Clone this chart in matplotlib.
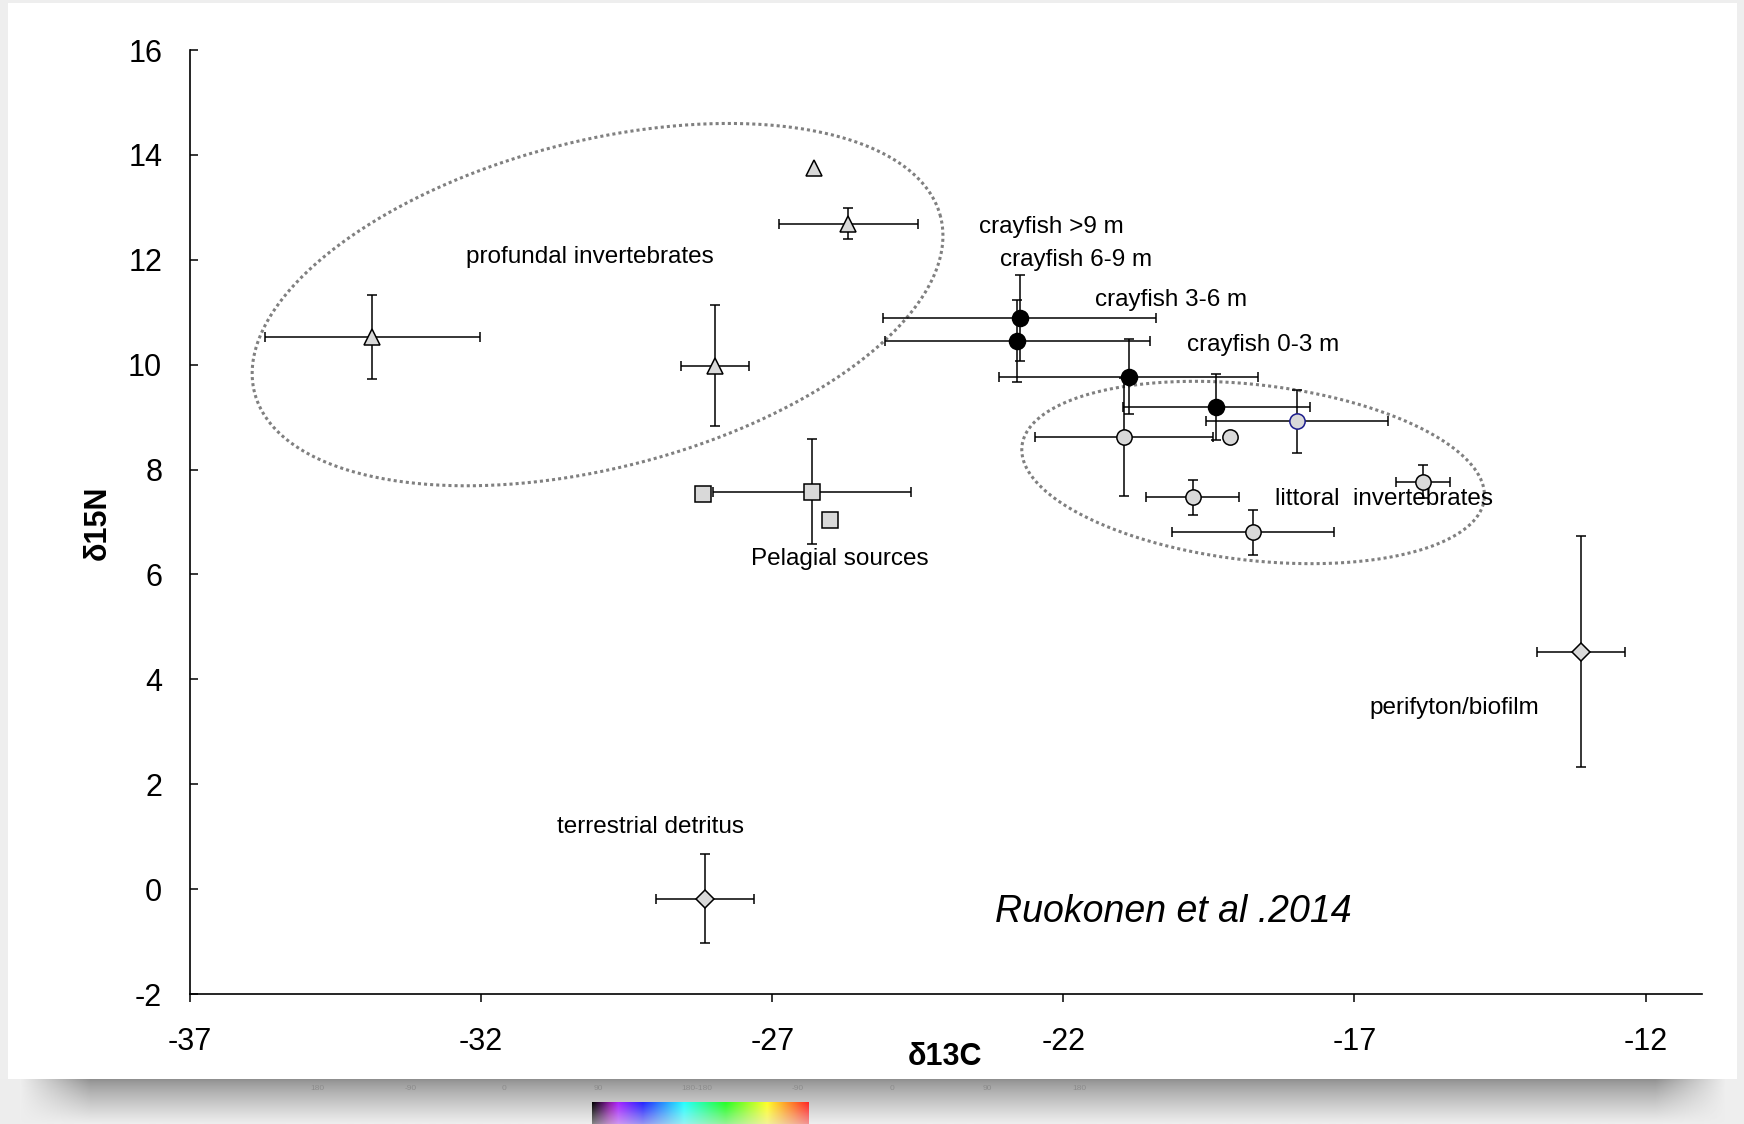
import numpy as np
import matplotlib
matplotlib.use('Agg')
import matplotlib.pyplot as plt
from matplotlib.colors import hsv_to_rgb
from matplotlib.patches import Rectangle

# stable isotope means (d13C, d15N) with SD
profundal_x = [-33.87, -27.98, -25.69, -26.28]
profundal_y = [10.53, 9.98, 12.69, 13.75]
profundal_xerr = [1.85, 0.58, 1.20, np.nan]
profundal_yerr = [0.80, 1.15, 0.30, np.nan]

pelagial_x = [-28.19, -26.32, -26.00]
pelagial_y = [7.53, 7.58, 7.03]
pelagial_xerr = [np.nan, 1.70, np.nan]
pelagial_yerr = [np.nan, 1.00, np.nan]

crayfish_x = [-22.75, -22.79, -20.88, -19.37]
crayfish_y = [10.89, 10.45, 9.77, 9.19]
crayfish_xerr = [2.35, 2.28, 2.22, 1.60]
crayfish_yerr = [0.82, 0.79, 0.71, 0.63]
crayfish_labels = ['crayfish >9 m', 'crayfish 6-9 m', 'crayfish 3-6 m', 'crayfish 0-3 m']

littoral_x = [-17.99, -19.14, -20.96, -19.78, -18.74, -15.82]
littoral_y = [8.92, 8.63, 8.62, 7.47, 6.80, 7.77]
littoral_xerr = [1.56, np.nan, 1.53, 0.80, 1.39, 0.46]
littoral_yerr = [0.60, np.nan, 1.12, 0.34, 0.42, 0.32]
littoral_edge = ['#1c1c8c', 'black', 'black', 'black', 'black', 'black']

periphyton_x = [-13.11]
periphyton_y = [4.53]
periphyton_xerr = [0.76]
periphyton_yerr = [2.21]

terrestrial_x = [-28.16]
terrestrial_y = [-0.18]
terrestrial_xerr = [0.84]
terrestrial_yerr = [0.84]

# group outlines: centre and two conjugate semi-axes in data units
profundal_ring = (-30.0, 11.145, (5.891, 1.679), (-0.699, 3.019))
littoral_ring = (-18.74, 7.944, (3.970, -0.507), (0.1725, 1.663))

# text labels (x, y, text)
group_labels = [
    (-30.14, 12.06, 'profundal invertebrates'),
    (-25.84, 6.29, 'Pelagial sources'),
    (-16.50, 7.44, 'littoral  invertebrates'),
    (-15.28, 3.45, 'perifyton/biofilm'),
    (-29.09, 1.18, 'terrestrial detritus'),
]
crayfish_label_pos = [(-22.20, 12.63), (-21.78, 11.99), (-20.15, 11.23), (-18.57, 10.38)]

x_ticks = [-37, -32, -27, -22, -17, -12]
y_ticks = [-2, 0, 2, 4, 6, 8, 10, 12, 14, 16]

GREY = '#d9d9d9'


def draw_group(ax, x, y, xerr, yerr, marker, ms, face, edge='black'):
    """Error bars where given, then the markers on top."""
    x = np.array(x); y = np.array(y)
    xerr = np.array(xerr, dtype=float); yerr = np.array(yerr, dtype=float)
    has = np.isfinite(xerr)
    if has.any():
        ax.errorbar(x[has], y[has], xerr=xerr[has], yerr=yerr[has], fmt='none',
                    ecolor='black', elinewidth=1.1, capsize=3.3, capthick=1.1, zorder=3)
    if isinstance(edge, str):
        edge = [edge] * len(x)
    for xi, yi, ec in zip(x, y, edge):
        ax.plot(xi, yi, marker=marker, ms=ms, mfc=face, mec=ec, mew=1.1,
                ls='none', zorder=4)


def draw_ring(ax, ring):
    cx, cy, u, v = ring
    t = np.linspace(0, 2 * np.pi, 500)
    ex = cx + u[0] * np.cos(t) + v[0] * np.sin(t)
    ey = cy + u[1] * np.cos(t) + v[1] * np.sin(t)
    ax.plot(ex, ey, ls=(0, (1, 1)), lw=2.2, color='#808080', zorder=2)


plt.rcParams['font.family'] = ['Liberation Sans', 'DejaVu Sans']
plt.rcParams['axes.unicode_minus'] = False

W, H = 1744, 1124
fig = plt.figure(figsize=(W / 100, H / 100), dpi=100, facecolor='#eeeeee')

# white page with a soft shadow underneath
fig.patches.append(Rectangle((8 / W, 45 / H), 1729 / W, 1076 / H, transform=fig.transFigure,
                             facecolor='white', edgecolor='none', zorder=-1))

sh = fig.add_axes([0, 0, 1, 45 / H], zorder=-2)
sh.axis('off')
rows = np.linspace(0, 1, 45)[:, None]
cols = np.arange(W)[None, :]
dark = 0.56 + 0.37 * rows ** 0.8
fade = np.clip(np.minimum(cols - 20, W - 20 - cols) / 70.0, 0, 1)
shade = 0.93 - (0.93 - dark) * fade
sh.imshow(shade, cmap='gray', vmin=0, vmax=1, aspect='auto', extent=(0, 1, 0, 1))

# faint angle scale and hue bar below the page
for px, lab in zip([317, 411, 504, 598, 697, 798, 892, 987, 1079],
                   ['180', '-90', '0', '90', '180-180', '-90', '0', '90', '180']):
    fig.text(px / W, 1 - 1088 / H, lab, fontsize=6, color='#8c8c8c', ha='center', va='center')

hb = fig.add_axes([592 / W, 0, 217 / W, 22 / H], zorder=-1)
hb.axis('off')
pos = np.linspace(0, 1, 200)
hue = np.clip(0.8 - 0.8 * (pos - 0.08) / 0.92, 0, 0.8)
val = np.clip(pos / 0.12, 0, 1)
top = hsv_to_rgb(np.stack([hue, np.full_like(pos, 0.85), val], axis=-1))
mix = np.linspace(0, 0.55, 20)[:, None, None]
bar = top[None, :, :] * (1 - mix) + 0.92 * mix
hb.imshow(bar, aspect='auto', extent=(0, 1, 0, 1))

ax = fig.add_axes([190 / W, 1 - 994 / H, 1512 / W, 944 / H])
ax.set_facecolor('none')

draw_ring(ax, profundal_ring)
draw_ring(ax, littoral_ring)

draw_group(ax, profundal_x, profundal_y, profundal_xerr, profundal_yerr, '^', 11, GREY)
draw_group(ax, pelagial_x, pelagial_y, pelagial_xerr, pelagial_yerr, 's', 11.5, GREY)
draw_group(ax, crayfish_x, crayfish_y, crayfish_xerr, crayfish_yerr, 'o', 11.5, 'black')
draw_group(ax, littoral_x, littoral_y, littoral_xerr, littoral_yerr, 'o', 11, GREY, littoral_edge)
draw_group(ax, periphyton_x, periphyton_y, periphyton_xerr, periphyton_yerr, 'D', 8.7, GREY)
draw_group(ax, terrestrial_x, terrestrial_y, terrestrial_xerr, terrestrial_yerr, 'D', 8.7, GREY)

for x, y, s in group_labels:
    ax.text(x, y, s, fontsize=17.5, ha='center', va='center', zorder=5)
for (x, y), s in zip(crayfish_label_pos, crayfish_labels):
    ax.text(x, y, s, fontsize=17.5, ha='center', va='center', zorder=5)
ax.text(-20.11, -0.43, 'Ruokonen et al .2014', fontsize=27, style='italic',
        ha='center', va='center')

ax.set_xlim(-37, -11.03)
ax.set_ylim(-2, 16)
ax.set_xticks(x_ticks)
ax.set_yticks(y_ticks)
ax.spines['top'].set_visible(False)
ax.spines['right'].set_visible(False)
for s in ['left', 'bottom']:
    ax.spines[s].set_linewidth(1.2)
ax.tick_params(axis='x', direction='out', length=6, width=1.1, pad=18, labelsize=22)
ax.tick_params(axis='y', direction='in', length=6, width=1.1, pad=20, labelsize=22)

ax.set_xlabel('δ13C', fontsize=22, fontweight='bold')
ax.set_ylabel('δ15N', fontsize=22, fontweight='bold')
ax.xaxis.set_label_coords(0.4993, -0.0667)
ax.xaxis.label.set_va('center')
ax.yaxis.set_label_coords(-0.0608, 0.499)
ax.yaxis.label.set_va('center')

fig.savefig('out.png', dpi=100, facecolor=fig.get_facecolor())
